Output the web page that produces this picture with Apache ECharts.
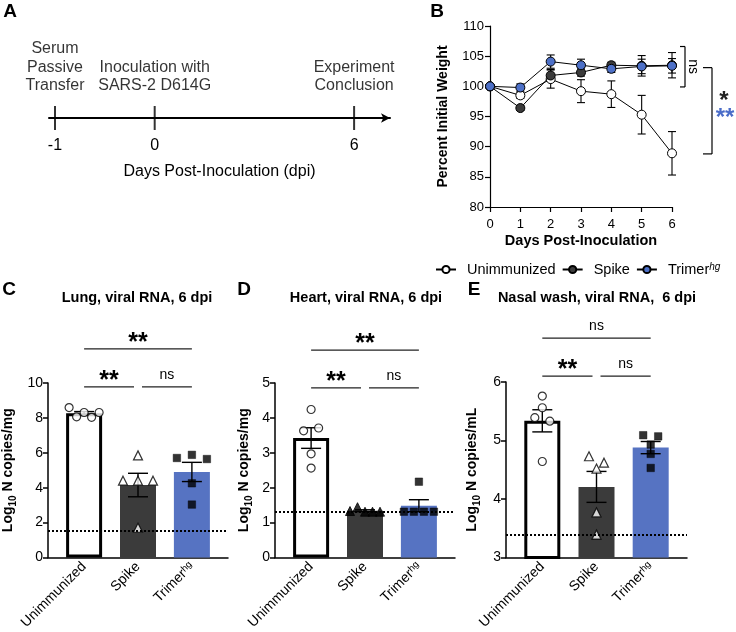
<!DOCTYPE html>
<html><head><meta charset="utf-8">
<script src="https://cdn.jsdelivr.net/npm/echarts@6/dist/echarts.min.js"></script>
<style>html,body{margin:0;padding:0;background:#fff}#c{width:736px;height:632px}</style>
</head><body><div id="c"></div>
<script>
// ---------------- DATA ----------------
// Panel A – experiment timeline
const eventDays = [-1, 0, 6];
const eventLabels = ['Serum\nPassive\nTransfer', 'Inoculation with\nSARS-2 D614G', 'Experiment\nConclusion'];
const timelineTitle = 'Days Post-Inoculation (dpi)';

// Panel B – weight curves (mean ± SEM)
const weightDays = [0, 1, 2, 3, 4, 5, 6];
const weightUnimmunized = [100, 98.5, 101.2, 99.2, 98.7, 95.3, 88.9];
const weightUnimmunizedSEM = [0, 0.5, 1.5, 1.9, 2.2, 3.2, 3.6];
const weightSpike = [100, 96.4, 101.8, 102.3, 103.5, 103.4, 103.5];
const weightSpikeSEM = [0, 0.4, 1.0, 0.6, 0.5, 1.7, 2.1];
const weightTrimer = [100, 99.8, 104.1, 103.5, 102.9, 103.3, 103.4];
const weightTrimerSEM = [0, 0.6, 1.1, 1.0, 0.6, 1.2, 1.2];
const weightBrackets = [[99.9, 106.6], [88.8, 103.1]];

// Groups
const groupNames = ['Unimmunized', 'Spike', 'Trimer'];

// Panel C – lung
const lungUnimmunized = [8.59, 8.06, 8.31, 8.03, 8.31];
const lungSpike = [5.85, 4.40, 4.40, 4.40, 1.70];
const lungTrimer = [5.70, 5.88, 5.64, 4.25, 3.03];
const lungLOD = 1.55;
const lungBrackets = [[0, 2, 11.96], [0, 1, 9.78], [1, 2, 9.78]];
const lungBracketLabels = ['**', '**', 'ns'];

// Panel D – heart
const heartUnimmunized = [4.24, 3.63, 3.71, 2.97, 2.56];
const heartSpike = [1.33, 1.44, 1.31, 1.31, 1.31];
const heartTrimer = [2.17, 1.31, 1.31, 1.31, 1.31];
const heartLOD = 1.31;
const heartBrackets = [[0, 2, 5.94], [0, 1, 4.86], [1, 2, 4.86]];
const heartBracketLabels = ['**', '**', 'ns'];

// Panel E – nasal wash
const nasalUnimmunized = [5.76, 5.56, 5.39, 5.33, 4.64];
const nasalSpike = [4.73, 4.62, 4.52, 3.77, 3.39];
const nasalTrimer = [5.09, 5.07, 4.93, 4.77, 4.53];
const nasalLOD = 3.39;
const nasalBrackets = [[0, 2, 6.75], [0, 1, 6.1], [1, 2, 6.1]];
const nasalBracketLabels = ['ns', '**', 'ns'];

// ---------------- STYLE ----------------
const FONT = '"Liberation Sans", Arial, Helvetica, sans-serif';
const SPIKE_COLOR = '#3b3b3b';
const TRIMER_COLOR = '#5673c2';
const TRIMER_PT = '#4d70c7';
const BLUE_STAR = '#4a6cc8';

const mean = a => a.reduce((s, v) => s + v, 0) / a.length;
const sem = a => { const m = mean(a); const v = a.reduce((s, x) => s + (x - m) * (x - m), 0) / (a.length - 1); return Math.sqrt(v / a.length); };
const schematicPos = d => d <= 0 ? d + 1 : 1 + d / 3;

const chart = echarts.init(document.getElementById('c'), null, { renderer: 'canvas' });

const groupLabelFormatter = v => {
  const i = Math.round(v) - 1;
  const n = groupNames[i];
  if (n === 'Trimer') return '{n|Trimer}{s|hg}';
  return '{n|' + n + '}';
};
const groupRich = {
  n: { fontFamily: FONT, fontSize: 14, color: '#000' },
  s: { fontFamily: FONT, fontSize: 9.5, color: '#000', verticalAlign: 'top' }
};
const nameRich = {
  n: { fontFamily: FONT, fontSize: 14, fontWeight: 'bold', color: '#000', lineHeight: 17, verticalAlign: 'top' },
  sub: { fontFamily: FONT, fontSize: 10, fontWeight: 'bold', color: '#000', lineHeight: 10, padding: [7, 0, 0, 0], verticalAlign: 'top' }
};

function barXAxis(gi) {
  return {
    gridIndex: gi, type: 'value', min: 0.33, max: 3.67,
    axisLine: { show: true, onZero: false, lineStyle: { color: '#000', width: 1.5 } },
    axisTick: { show: false }, splitLine: { show: false },
    axisLabel: { customValues: [1, 2, 3], rotate: 45, margin: 7, formatter: groupLabelFormatter, rich: groupRich, fontFamily: FONT }
  };
}
function barYAxis(gi, min, max, interval, unit, gap) {
  return {
    gridIndex: gi, type: 'value', min: min, max: max, interval: interval,
    axisLine: { show: true, onZero: false, lineStyle: { color: '#000', width: 1.5 } },
    axisTick: { show: true, length: 5, lineStyle: { color: '#000', width: 1.5 } },
    splitLine: { show: false },
    axisLabel: { fontFamily: FONT, fontSize: 14, color: '#000', margin: 5 },
    name: '{n|Log}{sub|10}{n| N copies/' + unit + '}', nameLocation: 'middle', nameGap: gap,
    nameTextStyle: { rich: nameRich }
  };
}

function errorRender(capHalf, lw) {
  return function (params, api) {
    const x = api.value(0), m = api.value(1), s = api.value(2);
    if (!s) return null;
    const t = api.coord([x, m + s]), b = api.coord([x, m - s]);
    const st = { stroke: '#000', lineWidth: lw };
    return {
      type: 'group', children: [
        { type: 'line', shape: { x1: t[0], y1: t[1], x2: b[0], y2: b[1] }, style: st },
        { type: 'line', shape: { x1: t[0] - capHalf, y1: t[1], x2: t[0] + capHalf, y2: t[1] }, style: st },
        { type: 'line', shape: { x1: b[0] - capHalf, y1: b[1], x2: b[0] + capHalf, y2: b[1] }, style: st }
      ]
    };
  };
}

function bracketRender(brackets, labels) {
  return function (params, api) {
    const br = brackets[params.dataIndex];
    const p0 = api.coord([br[0] + 1, br[2]]), p1 = api.coord([br[1] + 1, br[2]]);
    if (br[0] === 1) p0[0] += 4;
    if (br[1] === 1) p1[0] -= 4;
    const lab = labels[params.dataIndex];
    const isStar = lab.indexOf('*') >= 0;
    return {
      type: 'group', children: [
        { type: 'line', shape: { x1: p0[0], y1: p0[1], x2: p1[0], y2: p1[1] }, style: { stroke: '#222', lineWidth: 1.2 } },
        { type: 'text', x: (p0[0] + p1[0]) / 2, y: p0[1] - (isStar ? 6 : 12),
          style: { text: lab, fontFamily: FONT, fontSize: isStar ? 25 : 14, fontWeight: isStar ? 'bold' : 'normal', fill: '#000', align: 'center', verticalAlign: 'middle' } }
      ]
    };
  };
}

function panelSeries(gi, groups, lod, brackets, labels, spikeFilled, key) {
  const styles = [
    { color: '#fff', borderColor: '#000', borderWidth: 3 },
    { color: SPIKE_COLOR },
    { color: TRIMER_COLOR }
  ];
  const out = [];
  out.push({
    type: 'bar', xAxisIndex: gi, yAxisIndex: gi, barWidth: 36, z: 2,
    data: groups.map((g, i) => ({ value: [i + 1, mean(g)], itemStyle: styles[i] })),
    markLine: { silent: true, symbol: 'none', label: { show: false }, animation: false,
      lineStyle: { type: [2, 2], width: 2, color: '#000' }, data: [{ yAxis: lod }] }
  });
  out.push({
    type: 'custom', xAxisIndex: gi, yAxisIndex: gi, z: 3, clip: false,
    renderItem: errorRender(10, 1.4),
    data: groups.map((g, i) => [i + 1, mean(g), sem(g)])
  });
  const syms = ['circle', 'triangle', 'rect'];
  const sizes = [8, 9, 7.5];
  const ptStyles = [
    { color: '#fff', borderColor: '#000', borderWidth: 1.2 },
    spikeFilled ? { color: '#000', borderColor: '#000', borderWidth: 1 } : { color: '#fff', borderColor: '#000', borderWidth: 1.2 },
    { color: '#000', borderColor: '#000', borderWidth: 0.5 }
  ];
  groups.forEach((g, i) => {
    out.push({
      id: key + '_pts_' + i, type: 'scatter', xAxisIndex: gi, yAxisIndex: gi, z: 4,
      symbol: syms[i], symbolSize: sizes[i], itemStyle: ptStyles[i],
      data: g.map(v => [i + 1, v])
    });
  });
  out.push({
    type: 'custom', xAxisIndex: gi, yAxisIndex: gi, z: 5, clip: false,
    renderItem: bracketRender(brackets, labels),
    data: brackets.map((b, i) => [i])
  });
  return out;
}

// weight panel series
const weightSets = [
  { name: 'Unimmunized', v: weightUnimmunized, e: weightUnimmunizedSEM, fill: '#fff' },
  { name: 'Spike', v: weightSpike, e: weightSpikeSEM, fill: SPIKE_COLOR },
  { name: 'Trimer', v: weightTrimer, e: weightTrimerSEM, fill: TRIMER_PT }
];
const weightSeries = [];
weightSets.forEach((s, k) => {
  weightSeries.push({
    type: 'custom', xAxisIndex: 1, yAxisIndex: 1, z: 1, clip: false,
    renderItem: errorRender(4, 1.1),
    data: weightDays.map((d, i) => [d, s.v[i], s.e[i]])
  });
});
weightSets.forEach((s, k) => {
  weightSeries.push({
    name: s.name, type: 'line', xAxisIndex: 1, yAxisIndex: 1, z: 2 + k,
    symbol: 'circle', symbolSize: 9, showSymbol: true,
    lineStyle: { color: '#000', width: 1 },
    itemStyle: { color: s.fill, borderColor: '#000', borderWidth: 1 },
    data: weightDays.map((d, i) => [d, s.v[i]])
  });
});
weightSeries.push({
  type: 'custom', xAxisIndex: 1, yAxisIndex: 1, z: 6, clip: false,
  data: weightBrackets.map((b, i) => [i]),
  renderItem: function (params, api) {
    const i = params.dataIndex;
    const br = weightBrackets[i];
    const lastX = weightDays[weightDays.length - 1];
    const top = api.coord([lastX, br[1]]), bot = api.coord([lastX, br[0]]);
    const x = top[0] + (i === 0 ? 13 : 40);
    const tick = i === 0 ? 5 : 9;
    const st = { stroke: '#000', lineWidth: 1.2 };
    const mid = (top[1] + bot[1]) / 2;
    const children = [
      { type: 'line', shape: { x1: x, y1: top[1], x2: x, y2: bot[1] }, style: st },
      { type: 'line', shape: { x1: x - tick, y1: top[1], x2: x, y2: top[1] }, style: st },
      { type: 'line', shape: { x1: x - tick, y1: bot[1], x2: x, y2: bot[1] }, style: st }
    ];
    if (i === 0) {
      children.push({ type: 'text', x: x + 8, y: mid, rotation: -Math.PI / 2,
        style: { text: 'ns', fontFamily: FONT, fontSize: 14, fill: '#000', align: 'center', verticalAlign: 'middle' } });
    } else {
      children.push({ type: 'text', x: x + 12, y: mid - 9,
        style: { text: '*', fontFamily: FONT, fontSize: 24, fontWeight: 'bold', fill: '#222', align: 'center', verticalAlign: 'middle' } });
      children.push({ type: 'text', x: x + 13, y: mid + 8,
        style: { text: '**', fontFamily: FONT, fontSize: 24, fontWeight: 'bold', fill: BLUE_STAR, align: 'center', verticalAlign: 'middle' } });
    }
    return { type: 'group', children: children };
  }
});

const txt = (x, y, text, size, weight) => ({
  type: 'text', x: x, y: y, silent: true,
  style: { text: text, fontFamily: FONT, fontSize: size, fontWeight: weight || 'normal', fill: '#000', align: 'center', verticalAlign: 'middle' }
});

const option = {
  animation: false,
  backgroundColor: '#fff',
  textStyle: { fontFamily: FONT },
  grid: [
    { left: 49, top: 108, width: 341, height: 20 },
    { left: 490, top: 26, width: 182, height: 181 },
    { left: 47, top: 383, width: 181, height: 179 },
    { left: 275, top: 383, width: 180, height: 180 },
    { left: 506, top: 382, width: 181, height: 180 }
  ],
  xAxis: [
    {
      gridIndex: 0, type: 'value', min: -0.06, max: 3.36,
      axisLine: { show: true, onZero: true, symbol: ['none', 'arrow'], symbolSize: [7, 9], lineStyle: { color: '#000', width: 2 } },
      axisTick: { show: false }, splitLine: { show: false },
      axisLabel: {
        customValues: eventDays.map(schematicPos), margin: 10, fontSize: 16, color: '#000', fontFamily: FONT,
        formatter: v => { const i = eventDays.findIndex(d => Math.abs(schematicPos(d) - v) < 1e-6); return i >= 0 ? String(eventDays[i]) : ''; }
      },
      name: timelineTitle, nameLocation: 'middle', nameGap: 36,
      nameTextStyle: { fontSize: 16, color: '#000', fontFamily: FONT }
    },
    {
      gridIndex: 1, type: 'value', min: 0, max: 6, interval: 1,
      axisLine: { show: true, onZero: false, lineStyle: { color: '#000', width: 1.2 } },
      axisTick: { show: true, length: 5, lineStyle: { color: '#000', width: 1.2 } },
      splitLine: { show: false },
      axisLabel: { fontFamily: FONT, fontSize: 13, color: '#000', margin: 11 },
      name: 'Days Post-Inoculation', nameLocation: 'middle', nameGap: 26,
      nameTextStyle: { fontFamily: FONT, fontSize: 14.5, fontWeight: 'bold', color: '#000' }
    },
    barXAxis(2), barXAxis(3), barXAxis(4)
  ],
  yAxis: [
    { gridIndex: 0, type: 'value', min: -1, max: 1, show: false },
    {
      gridIndex: 1, type: 'value', min: 80, max: 110, interval: 5,
      axisLine: { show: true, onZero: false, lineStyle: { color: '#000', width: 1.2 } },
      axisTick: { show: true, length: 5, lineStyle: { color: '#000', width: 1.2 } },
      splitLine: { show: false },
      axisLabel: { fontFamily: FONT, fontSize: 13, color: '#000', margin: 6 },
      name: 'Percent Initial Weight', nameLocation: 'middle', nameGap: 40,
      nameTextStyle: { fontFamily: FONT, fontSize: 14, fontWeight: 'bold', color: '#000' }
    },
    barYAxis(2, 0, 10, 2, 'mg', 30),
    barYAxis(3, 0, 5, 1, 'mg', 21),
    barYAxis(4, 3, 6, 1, 'mL', 24)
  ],
  legend: {
    data: groupNames, left: 430, top: 257, itemGap: 6, itemWidth: 20, itemHeight: 9,
    textStyle: { fontFamily: FONT, fontSize: 14.5, color: '#000',
      rich: { n: { fontFamily: FONT, fontSize: 14.5, color: '#000', padding: [0, 0, 0, 6] }, s: { fontFamily: FONT, fontSize: 10, fontStyle: 'italic', color: '#000', verticalAlign: 'top' } } },
    formatter: n => n === 'Trimer' ? '{n|Trimer}{s|hg}' : '{n|' + n + '}'
  },
  graphic: [
    txt(10, 12, 'A', 19, 'bold'),
    txt(437, 12, 'B', 19, 'bold'),
    txt(9, 290, 'C', 19, 'bold'),
    txt(244, 290, 'D', 19, 'bold'),
    txt(474, 290, 'E', 19, 'bold'),
    txt(137, 298, 'Lung, viral RNA, 6 dpi', 14.5, 'bold'),
    txt(366, 298, 'Heart, viral RNA, 6 dpi', 14.5, 'bold'),
    txt(597, 298, 'Nasal wash, viral RNA,  6 dpi', 14.5, 'bold')
  ],
  series: [
    {
      type: 'scatter', xAxisIndex: 0, yAxisIndex: 0, symbol: 'rect', symbolSize: [2, 24],
      itemStyle: { color: '#000' }, z: 3,
      data: eventDays.map(d => [schematicPos(d), 0]),
      label: { show: true, position: 'top', distance: 11, formatter: p => eventLabels[p.dataIndex],
        fontFamily: FONT, fontSize: 16, lineHeight: 18.5, color: '#000', align: 'center' }
    }
  ].concat(weightSeries)
   .concat(panelSeries(2, [lungUnimmunized, lungSpike, lungTrimer], lungLOD, lungBrackets, lungBracketLabels, false, 'lung'))
   .concat(panelSeries(3, [heartUnimmunized, heartSpike, heartTrimer], heartLOD, heartBrackets, heartBracketLabels, true, 'heart'))
   .concat(panelSeries(4, [nasalUnimmunized, nasalSpike, nasalTrimer], nasalLOD, nasalBrackets, nasalBracketLabels, false, 'nasal'))
};

chart.setOption(option);

// beeswarm-style horizontal spread of the dots (Prism-like), computed in pixel space
function swarm(values, gi, xc) {
  const py = values.map(v => chart.convertToPixel({ gridIndex: gi }, [xc, v])[1]);
  const ppu = chart.convertToPixel({ gridIndex: gi }, [2, 0])[0] - chart.convertToPixel({ gridIndex: gi }, [1, 0])[0];
  const order = values.map((v, i) => i).sort((a, b) => py[a] - py[b]);
  const rows = []; let cur = null;
  order.forEach(i => {
    if (cur && Math.abs(py[i] - py[cur[0]]) <= 9) cur.push(i); else { cur = [i]; rows.push(cur); }
  });
  const offs = values.map(() => 0);
  rows.forEach(r => {
    r.sort((a, b) => a - b);
    const n = r.length; const sp = n > 1 ? Math.min(15, 30 / (n - 1)) : 0;
    r.forEach((i, k) => { offs[i] = (k - (n - 1) / 2) * sp; });
  });
  return values.map((v, i) => [xc + offs[i] / ppu, v]);
}
const upd = [];
[['lung', 2, [lungUnimmunized, lungSpike, lungTrimer]],
 ['heart', 3, [heartUnimmunized, heartSpike, heartTrimer]],
 ['nasal', 4, [nasalUnimmunized, nasalSpike, nasalTrimer]]].forEach(([key, gi, groups]) => {
  groups.forEach((g, i) => upd.push({ id: key + '_pts_' + i, data: swarm(g, gi, i + 1) }));
});
chart.setOption({ series: upd });
</script></body></html>
